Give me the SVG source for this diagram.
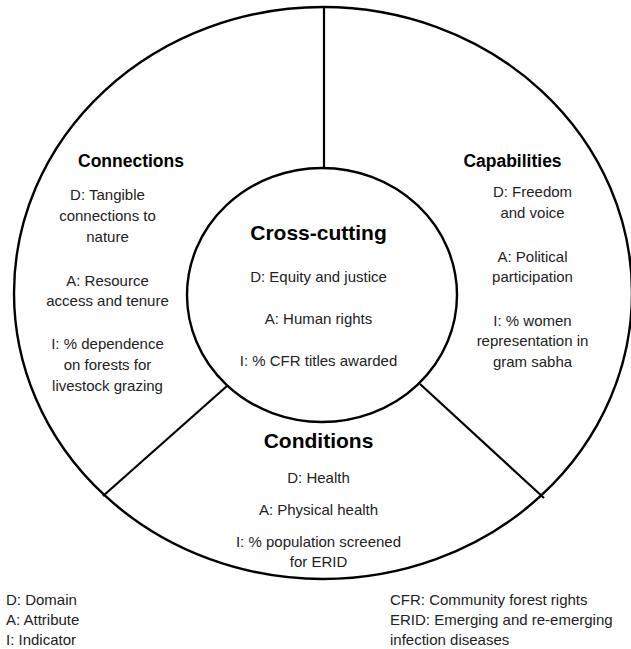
<svg xmlns="http://www.w3.org/2000/svg" width="631" height="649" viewBox="0 0 631 649">
<style>
.ln{fill:none;stroke:#000;stroke-width:2.4}
.sp{fill:none;stroke:#000;stroke-width:2.2}
.b{font-family:"Liberation Sans",Arial,sans-serif;font-size:15px;fill:#222;text-anchor:middle}
.l{font-family:"Liberation Sans",Arial,sans-serif;font-size:15px;fill:#222}
.h{font-family:"Liberation Sans",Arial,sans-serif;font-weight:bold;fill:#000;text-anchor:middle}
.h1{font-size:21px}
.h2{font-size:17.5px}
</style>
<rect width="631" height="649" fill="#fff"/>
<g id="ring">
<ellipse class="ln" cx="323" cy="293" rx="309" ry="286"/>
</g>
<g id="connectors">
<line class="sp" x1="324" y1="7" x2="324" y2="168"/>
<line class="sp" x1="227" y1="386" x2="103" y2="496"/>
<line class="sp" x1="420" y1="384" x2="544" y2="498"/>
</g>
<g id="cross-cutting">
<ellipse class="ln" cx="322" cy="295" rx="135" ry="127"/>
<text class="h h1" x="318.5" y="240">Cross-cutting</text>
<text class="b" x="318.5" y="282">D: Equity and justice</text>
<text class="b" x="318.5" y="324">A: Human rights</text>
<text class="b" x="318.5" y="366">I: % CFR titles awarded</text>
</g>
<g id="connections">
<text class="h h2" x="131" y="167">Connections</text>
<text class="b" x="107.5" y="200">D: Tangible</text>
<text class="b" x="107.5" y="221">connections to</text>
<text class="b" x="107.5" y="242">nature</text>
<text class="b" x="107.5" y="286">A: Resource</text>
<text class="b" x="107.5" y="306">access and tenure</text>
<text class="b" x="107.5" y="349">I: % dependence</text>
<text class="b" x="107.5" y="370">on forests for</text>
<text class="b" x="107.5" y="391">livestock grazing</text>
</g>
<g id="capabilities">
<text class="h h2" x="512.5" y="167">Capabilities</text>
<text class="b" x="532.5" y="197">D: Freedom</text>
<text class="b" x="532.5" y="218">and voice</text>
<text class="b" x="532.5" y="262">A: Political</text>
<text class="b" x="532.5" y="282">participation</text>
<text class="b" x="532.5" y="326">I: % women</text>
<text class="b" x="532.5" y="346">representation in</text>
<text class="b" x="532.5" y="367">gram sabha</text>
</g>
<g id="conditions">
<text class="h h1" x="318.5" y="448">Conditions</text>
<text class="b" x="318.5" y="483">D: Health</text>
<text class="b" x="318.5" y="515">A: Physical health</text>
<text class="b" x="318.5" y="547">I: % population screened</text>
<text class="b" x="318.5" y="567">for ERID</text>
</g>
<g id="legend-left">
<text class="l" x="6" y="605">D: Domain</text>
<text class="l" x="6" y="625">A: Attribute</text>
<text class="l" x="6" y="645">I: Indicator</text>
</g>
<g id="legend-right">
<text class="l" x="390" y="605">CFR: Community forest rights</text>
<text class="l" x="390" y="625">ERID: Emerging and re-emerging</text>
<text class="l" x="390" y="645">infection diseases</text>
</g>
</svg>
